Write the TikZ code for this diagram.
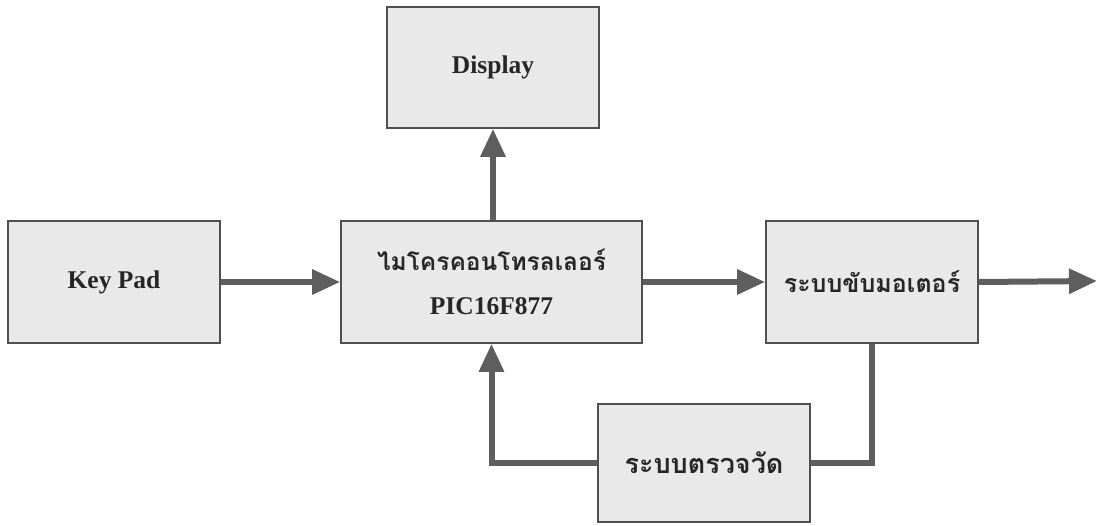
\documentclass[tikz,border=0pt]{standalone}
\usepackage{fontspec}
\setmainfont{Liberation Serif}
\newfontfamily\thaifont[Script=Thai]{Loma}
\usetikzlibrary{arrows.meta}
\definecolor{boxfill}{HTML}{E9E9E9}
\definecolor{boxline}{HTML}{505050}
\definecolor{arrcol}{HTML}{5E5E5E}
\begin{document}
\begin{tikzpicture}[x=1pt,y=-1pt,
  blk/.style={draw=boxline,line width=1.6pt,fill=boxfill,rectangle,inner sep=0pt,
    font=\bfseries\fontsize{25.5}{30}\selectfont,text=black!85},
  thai/.style={font=\thaifont\bfseries\fontsize{25}{30}\selectfont},
  conn/.style={draw=arrcol,line width=6pt,-{Triangle[length=28pt,width=24pt]}},
  wire/.style={draw=arrcol,line width=6pt}]
\useasboundingbox (0,0) rectangle (1099,526);
\node[blk,minimum width=212pt,minimum height=122pt] (keypad) at (114,282) {Key Pad};
\node[blk,minimum width=301pt,minimum height=122pt,align=center] (micro) at (491.5,282)
  {{\thaifont\bfseries\fontsize{24.5}{28}\selectfont ไมโครคอนโทรลเลอร์}\\[14pt] PIC16F877};
\node[blk,minimum width=212pt,minimum height=122pt,thai] (motor) at (872,282) {ระบบขับมอเตอร์};
\node[blk,minimum width=212pt,minimum height=121pt] (display) at (493,67.5) {Display};
\node[blk,minimum width=212pt,minimum height=118pt,font=\thaifont\bfseries\fontsize{27}{30}\selectfont] (measure) at (704,463) {ระบบตรวจวัด};
\coordinate (out) at (1097,281);
\draw[conn] (keypad.east) -- (micro.west);
\draw[conn] (micro.east) -- (motor.west);
\draw[conn] (motor.east) -- (out);
\draw[conn] (micro.north -| display.south) -- (display.south);
\draw[wire] (motor.south) |- (measure.east);
\draw[conn] (measure.west) -| (micro.south);
\end{tikzpicture}
\end{document}
